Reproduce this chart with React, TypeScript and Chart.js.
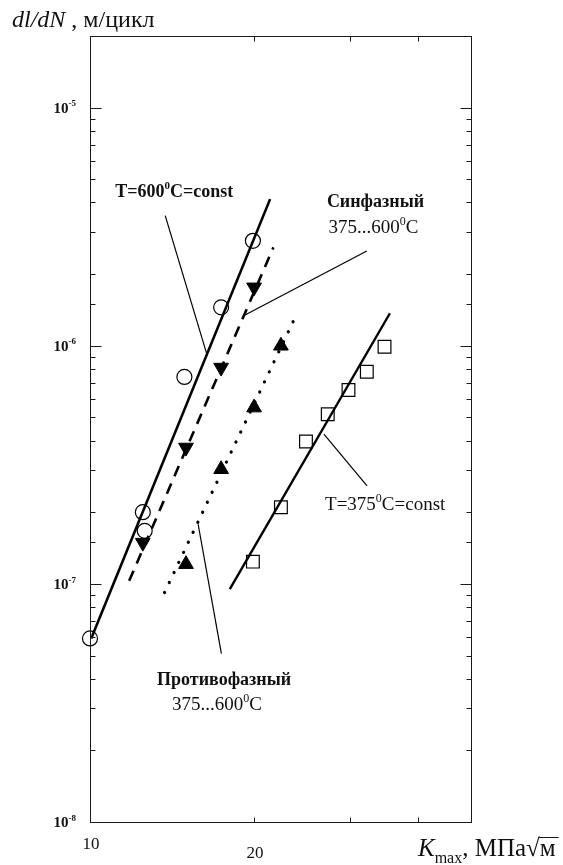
import React, { useEffect, useRef } from "react";
import { Chart, registerables } from "chart.js";
Chart.register(...registerables);

// ---- data (K_max in MPa·√m, dl/dN in m/cycle) ----
const circlesK = [10.0, 12.5, 12.6, 14.9, 17.4, 19.9];
const circlesV = [5.9e-8, 2.0e-7, 1.67e-7, 7.4e-7, 1.45e-6, 2.76e-6];
const triDownK = [12.5, 15.0, 17.4, 20.0];
const triDownV = [1.49e-7, 3.74e-7, 8.1e-7, 1.76e-6];
const triUpK = [15.0, 17.4, 20.0, 22.4];
const triUpV = [1.21e-7, 3.03e-7, 5.5e-7, 1.0e-6];
const squaresK = [19.9, 22.4, 24.9, 27.3, 29.8, 32.2, 34.7];
const squaresV = [1.24e-7, 2.1e-7, 3.96e-7, 5.16e-7, 6.52e-7, 7.78e-7, 9.9e-7];

// fitted lines (end points)
const fit600K = [10.05, 21.4];
const fit600V = [5.9e-8, 4.13e-6];
const fitInK = [11.8, 21.7];
const fitInV = [1.03e-7, 2.59e-6];
const fitAntiK = [13.7, 23.8];
const fitAntiV = [9.2e-8, 1.32e-6];
const fit375K = [18.05, 35.5];
const fit375V = [9.5e-8, 1.37e-6];

// leader lines of annotations
const lead600K = [13.74, 16.38];
const lead600V = [3.52e-6, 9.23e-7];
const leadInK = [32.2, 19.17];
const leadInV = [2.5e-6, 1.34e-6];
const leadAntiK = [15.79, 17.42];
const leadAntiV = [1.78e-7, 5.09e-8];
const lead375K = [26.86, 32.23];
const lead375V = [4.26e-7, 2.58e-7];

// annotation texts: [main, sup, rest]
const noteTexts = [
  ["T=600", "0", "C=const"],
  ["Синфазный", "", ""],
  ["375...600", "0", "C"],
  ["Противофазный", "", ""],
  ["375...600", "0", "C"],
  ["T=375", "0", "C=const"],
];
const noteK = [14.27, 33.4, 33.1, 17.62, 17.1, 34.8];
const noteV = [4.48e-6, 4.04e-6, 3.14e-6, 3.99e-8, 3.13e-8, 2.16e-7];
const noteBold = [true, true, false, true, false, false];

const xTickLabels = [10, 20];
const xMin = 10, xMax = 50, yMin = 1e-8, yMax = 2e-5;

const SERIF = "'Liberation Serif', 'DejaVu Serif', serif";

const pts = (k: number[], v: number[]) => k.map((x, i) => ({ x, y: v[i] }));

type Seg = { t: string; sup?: boolean; sub?: boolean; italic?: boolean };

function drawRich(ctx: CanvasRenderingContext2D, segs: Seg[], x: number, y: number, align: string, size: number, bold: boolean) {
  const fontOf = (s: Seg) => {
    const sz = s.sup || s.sub ? Math.round(size * 0.62) : size;
    return `${s.italic ? "italic " : ""}${bold ? "bold " : ""}${sz}px ${SERIF}`;
  };
  let total = 0;
  const ws = segs.map((s) => { ctx.font = fontOf(s); const w = ctx.measureText(s.t).width; total += w; return w; });
  let cx = align === "center" ? x - total / 2 : align === "right" ? x - total : x;
  ctx.textAlign = "left";
  ctx.textBaseline = "alphabetic";
  segs.forEach((s, i) => {
    ctx.font = fontOf(s);
    const dy = s.sup ? -size * 0.42 : s.sub ? size * 0.28 : 0;
    ctx.fillText(s.t, cx, y + dy);
    cx += ws[i];
  });
  return total;
}

const deco = {
  id: "deco",
  afterDraw(chart: any) {
    const ctx: CanvasRenderingContext2D = chart.ctx;
    const { left, right, top, bottom } = chart.chartArea;
    const xs = chart.scales.x, ys = chart.scales.y;
    ctx.save();
    ctx.strokeStyle = "#1a1a1a";
    ctx.fillStyle = "#111";
    ctx.lineWidth = 1;
    const L = Math.round(left) + 0.5, R = Math.round(right) + 0.5, T = Math.round(top) + 0.5, B = Math.round(bottom) + 0.5;
    ctx.strokeRect(L, T, R - L, B - T);
    // y ticks
    ctx.beginPath();
    ys.ticks.forEach((t: any) => {
      if (t.value > 1.0001e-5) return;
      const lg = Math.log10(t.value);
      const major = Math.abs(lg - Math.round(lg)) < 1e-6;
      const py = Math.round(ys.getPixelForValue(t.value)) + 0.5;
      const len = major ? 11 : 5;
      ctx.moveTo(L, py); ctx.lineTo(L + len, py);
      ctx.moveTo(R, py); ctx.lineTo(R - len, py);
    });
    xs.ticks.forEach((t: any) => {
      if (t.value <= xMin || t.value >= xMax) return;
      if (Math.abs(t.value / 10 - Math.round(t.value / 10)) > 1e-6) return;
      const px = Math.round(xs.getPixelForValue(t.value)) + 0.5;
      ctx.moveTo(px, B); ctx.lineTo(px, B - 5);
      ctx.moveTo(px, T); ctx.lineTo(px, T + 5);
    });
    ctx.stroke();
    // y labels
    ys.ticks.forEach((t: any) => {
      const lg = Math.log10(t.value);
      if (Math.abs(lg - Math.round(lg)) > 1e-6 || t.value > 1.0001e-5) return;
      const py = ys.getPixelForValue(t.value);
      drawRich(ctx, [{ t: "10" }, { t: String(Math.round(lg)), sup: true }], left - 14, py + 5, "right", 15, true);
    });
    // x labels
    xTickLabels.forEach((v, i) => {
      const px = xs.getPixelForValue(v);
      drawRich(ctx, [{ t: String(v) }], px + 1, bottom + (i === 0 ? 27 : 36), "center", 17, false);
    });
    // axis titles
    drawRich(ctx, [{ t: "dl", italic: true }, { t: "/", italic: true }, { t: "dN", italic: true }, { t: " , м/цикл" }], 12, 27, "left", 24, false);
    const w = drawRich(ctx, [{ t: "K", italic: true }, { t: "max", sub: true }, { t: ", МПа√м" }], 418, 856, "left", 25, false);
    ctx.font = `25px ${SERIF}`;
    const wm = ctx.measureText("м").width;
    ctx.beginPath();
    ctx.moveTo(418 + w - wm - 1, 837.5); ctx.lineTo(418 + w + 3, 837.5);
    ctx.stroke();
    // annotations
    noteTexts.forEach((n, i) => {
      const px = xs.getPixelForValue(noteK[i]);
      const py = ys.getPixelForValue(noteV[i]);
      const segs: Seg[] = [{ t: n[0] }];
      if (n[1]) segs.push({ t: n[1], sup: true });
      if (n[2]) segs.push({ t: n[2] });
      drawRich(ctx, segs, px, py + 6, "center", noteBold[i] ? 18 : 19, noteBold[i]);
    });
    ctx.restore();
  },
};

export default function App() {
  const ref = useRef<HTMLCanvasElement>(null);
  useEffect(() => {
    if (!ref.current) return;
    const lineDs = (k: number[], v: number[], w: number, dash: number[] = [], cap = "butt") => ({
      data: pts(k, v), showLine: true, pointRadius: 0, borderColor: "#000", borderWidth: w,
      borderDash: dash, borderCapStyle: cap, backgroundColor: "#000", fill: false,
    });
    const chart = new Chart(ref.current, {
      type: "scatter",
      data: {
        datasets: [
          { data: pts(circlesK, circlesV), clip: false, pointStyle: "circle", pointRadius: 7.5, borderColor: "#000", borderWidth: 1.2, backgroundColor: "rgba(0,0,0,0)" },
          { data: pts(triDownK, triDownV), clip: false, pointStyle: "triangle", rotation: 180, pointRadius: 8.5, borderColor: "#000", borderWidth: 1, backgroundColor: "#000" },
          { data: pts(triUpK, triUpV), clip: false, pointStyle: "triangle", pointRadius: 8.5, borderColor: "#000", borderWidth: 1, backgroundColor: "#000" },
          { data: pts(squaresK, squaresV), clip: false, pointStyle: "rect", pointRadius: 9, borderColor: "#000", borderWidth: 1.2, backgroundColor: "rgba(0,0,0,0)" },
          lineDs(fit600K, fit600V, 2.6),
          lineDs(fitInK, fitInV, 2.6, [11, 8]),
          lineDs(fitAntiK, fitAntiV, 3.2, [0.1, 11], "round"),
          lineDs(fit375K, fit375V, 2.4),
          lineDs(lead600K, lead600V, 1.2),
          lineDs(leadInK, leadInV, 1.2),
          lineDs(leadAntiK, leadAntiV, 1.2),
          lineDs(lead375K, lead375V, 1.2),
        ] as any,
      },
      options: {
        animation: false,
        responsive: false,
        layout: { padding: { top: 36, right: 92, left: 0, bottom: 0 } },
        plugins: { legend: { display: false }, tooltip: { enabled: false } },
        scales: {
          x: {
            type: "logarithmic", min: xMin, max: xMax, position: "bottom",
            ticks: { display: false }, grid: { display: false }, border: { display: false },
            afterFit: (s: any) => { s.height = 43; },
          },
          y: {
            type: "logarithmic", min: yMin, max: yMax,
            ticks: { display: false }, grid: { display: false }, border: { display: false },
            afterFit: (s: any) => { s.width = 90; },
          },
        },
      } as any,
      plugins: [deco],
    });
    return () => chart.destroy();
  }, []);
  return (
    <div style={{ position: "absolute", left: 0, top: 0, width: 563, height: 865, background: "#fff" }}>
      <canvas ref={ref} width={563} height={865} style={{ width: 563, height: 865, display: "block" }} />
    </div>
  );
}
